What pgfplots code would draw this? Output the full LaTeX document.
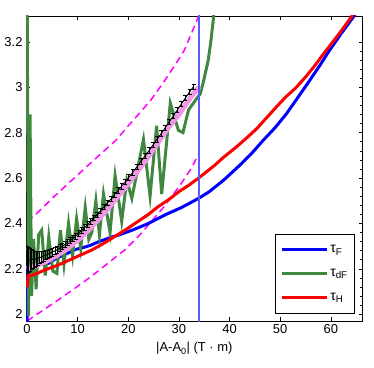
\documentclass[border=0pt]{standalone}
\usepackage{fontspec}
\setmainfont{Liberation Sans}
\usepackage{pgfplots}
\pgfplotsset{compat=1.18}
\definecolor{tauF}{rgb}{0,0,1}
\definecolor{taudF}{RGB}{64,135,64}
\definecolor{tauH}{rgb}{1,0,0}
\definecolor{pinkline}{RGB}{240,150,230}
\definecolor{vlinec}{RGB}{90,90,255}
\definecolor{magd}{RGB}{255,0,255}
\begin{document}
\begin{tikzpicture}
\begin{axis}[
  scale only axis, width=336.7bp, height=305bp,
  xmin=-0.2, xmax=66.3, ymin=1.97, ymax=3.314,
  xtick={0,10,20,30,40,50,60}, ytick={2,2.2,2.4,2.6,2.8,3,3.2},
  minor y tick num=4,
  tick align=inside,
  major tick length=4bp, minor tick length=2.5bp,
  tick style={black, line width=0.5bp},
  axis line style={line width=0.7bp},
  /pgf/number format/assume math mode=true,
  tick label style={font=\fontsize{13}{15}\selectfont},
  label style={font=\fontsize{13}{15}\selectfont},
  xlabel={|A-A\textsubscript{0}| (T · m)},
  xlabel style={yshift=-2bp},
  legend style={at={(axis description cs:0.977,0.025)}, anchor=south east,
    font=\fontsize{14}{16}\selectfont, draw=black, line width=0.6bp,
    inner xsep=5bp, inner ysep=9bp, row sep=11bp},
  legend cell align=left,
  legend image code/.code={\draw[#1] (0bp,0bp) -- (45bp,0bp);},
]
% dashed bounds
\addplot[magd, line width=1.5bp, dash pattern=on 7bp off 4.5bp, forget plot] coordinates {
(0,2.41) (1.6,2.437) (5.2,2.515) (8,2.573) (10.8,2.63) (14,2.695) (17.5,2.765) (20,2.83) (22,2.88) (24.5,2.945) (26.9,3.02) (29,3.09) (31,3.16) (33,3.265) (34,3.32)};
\addplot[magd, line width=1.5bp, dash pattern=on 7bp off 4.5bp, forget plot] coordinates {
(0,1.97) (3,2.015) (6.2,2.063) (9.5,2.115) (12.8,2.168) (16,2.225) (19.4,2.285) (22.3,2.35) (25,2.42) (27.3,2.48) (30.6,2.58) (32.5,2.645) (34,2.71)};
% tau_F
\addplot[tauF, line width=3bp] coordinates {
(0.03,1.96) (0.12,2.2) (1,2.205) (2,2.212) (3,2.228) (3.8,2.22) (4.6,2.228) (5.3,2.24) (6.2,2.25) (7.3,2.262) (8.2,2.27) (9.5,2.285) (11,2.293) (12.5,2.303) (14,2.318) (15.5,2.33) (16.7,2.34) (18,2.348) (19.5,2.36) (21,2.372) (22.5,2.386) (24,2.4) (25.9,2.422) (27.5,2.44) (29,2.455) (30.5,2.47) (32.2,2.49) (34,2.512) (36,2.54) (38.8,2.59) (40.5,2.625) (42.3,2.662) (44.5,2.712) (46.6,2.765) (49,2.822) (51.2,2.882) (53.5,2.955) (55.8,3.029) (57.8,3.095) (59.7,3.161) (62,3.235) (64.4,3.308) (65.5,3.345)};
\addlegendentry{τ\textsubscript{F}}
% tau_dF
\addplot[taudF, line width=3bp] coordinates {
(0.02,3.45) (0.3,1.99) (0.6,2.88) (0.9,2.08) (1.3,2.33) (1.8,2.11) (2.3,2.35) (2.9,2.37) (3.6,2.17) (4.3,2.34) (5.1,2.19) (5.9,2.18) (6.6,2.37) (7.3,2.22) (8.2,2.40) (9.0,2.26) (9.8,2.42) (10.6,2.29) (11.5,2.47) (12.2,2.33) (12.8,2.36) (13.6,2.50) (14.3,2.35) (15.1,2.53) (16.4,2.36) (17.4,2.61) (18.7,2.41) (19.7,2.59) (20.7,2.51) (23.0,2.77) (24.3,2.52) (25.6,2.83) (26.6,2.53) (28.3,2.93) (29.9,2.81) (30.8,2.80) (31.9,2.90) (33.5,2.95) (34.2,2.97) (34.8,3.02) (35.3,3.07) (35.8,3.12) (36.3,3.2) (36.8,3.3) (37.2,3.4)};
\addlegendentry{τ\textsubscript{dF}}
% tau_H
\addplot[tauH, line width=3bp] coordinates {
(0.05,2.12) (0.2,2.168) (1,2.172) (2,2.18) (3,2.19) (4.5,2.203) (6.2,2.217) (8,2.235) (10,2.255) (12.8,2.283) (15,2.31) (17,2.338) (19.4,2.371) (22,2.41) (24,2.44) (25.9,2.474) (28,2.505) (30,2.54) (32.2,2.572) (34.3,2.607) (37,2.655) (39,2.695) (41.3,2.736) (43.3,2.775) (45.3,2.816) (47.3,2.865) (49.2,2.912) (51,2.955) (53.2,3.0) (55.2,3.05) (57.1,3.103) (59,3.16) (61.1,3.22) (62.6,3.265) (64,3.308) (65,3.34)};
\addlegendentry{τ\textsubscript{H}}
% pink fit
\addplot[pinkline, line width=5bp, forget plot] coordinates {
(0,2.2) (2,2.215) (4,2.235) (6,2.26) (8,2.29) (10,2.325) (12,2.367) (14,2.415) (16,2.465) (18,2.52) (20,2.575) (22,2.635) (24,2.695) (26,2.76) (28,2.825) (30,2.88) (32,2.945) (33,2.975) (34,3.0)};
% black with error bars
\addplot[black, line width=0.9bp, forget plot,
  error bars/.cd, y dir=both, y explicit,
  error bar style={line width=0.7bp},
  error mark options={rotate=90, mark size=2bp, line width=0.7bp}]
  table[x=x, y=y, y error=e] {
x y e
0.0 2.240 0.060
0.3 2.238 0.055
0.6 2.240 0.050
0.9 2.241 0.045
1.2 2.242 0.040
1.5 2.243 0.036
1.8 2.244 0.032
2.1 2.246 0.029
2.5 2.249 0.026
2.9 2.253 0.024
3.3 2.257 0.022
3.7 2.260 0.020
4.1 2.263 0.019
4.5 2.268 0.018
5.0 2.274 0.017
5.5 2.279 0.016
6.0 2.285 0.015
6.5 2.292 0.015
7.0 2.300 0.014
7.5 2.307 0.014
8.0 2.315 0.013
8.5 2.324 0.013
9.0 2.333 0.013
9.6 2.344 0.012
10.2 2.356 0.012
10.8 2.369 0.012
11.4 2.382 0.012
12.0 2.395 0.012
12.6 2.409 0.012
13.2 2.424 0.012
13.8 2.438 0.012
14.5 2.455 0.012
15.2 2.473 0.012
15.9 2.490 0.012
16.6 2.508 0.012
17.3 2.527 0.012
18.0 2.545 0.012
18.7 2.564 0.012
19.4 2.583 0.012
20.1 2.603 0.012
20.9 2.626 0.012
21.7 2.649 0.012
22.5 2.673 0.012
23.3 2.697 0.012
24.1 2.721 0.012
24.9 2.746 0.012
25.7 2.771 0.012
26.5 2.796 0.012
27.3 2.822 0.012
28.1 2.848 0.012
28.9 2.874 0.012
29.7 2.900 0.012
30.5 2.927 0.012
31.3 2.953 0.012
32.1 2.979 0.012
32.9 3.003 0.012
};
% vertical line
\addplot[vlinec, line width=1.4bp, forget plot] coordinates {(34,1.9) (34,3.4)};
\end{axis}
\pgfresetboundingbox
\path[use as bounding box] ([xshift=-26bp,yshift=-47bp]current axis.south west) rectangle ([xshift=11.3bp,yshift=16bp]current axis.north east);
\end{tikzpicture}
\end{document}
